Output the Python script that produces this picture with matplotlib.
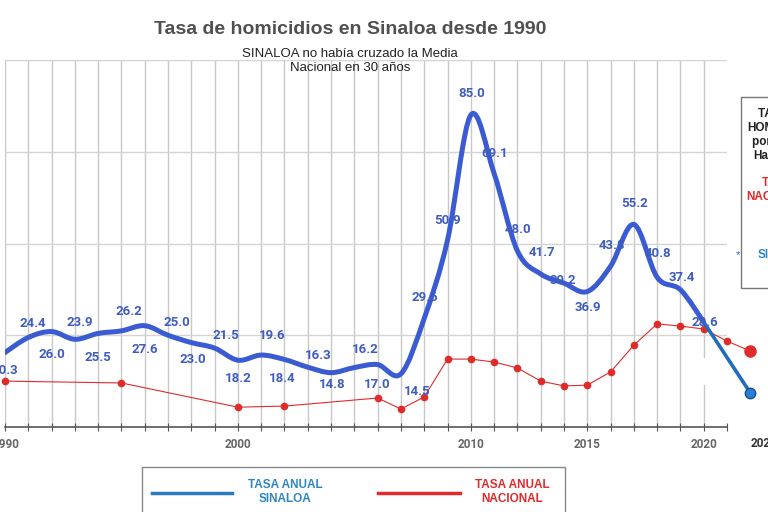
import matplotlib
matplotlib.use('Agg')
import matplotlib.pyplot as plt
from matplotlib.path import Path
from matplotlib.patches import PathPatch, Rectangle
from matplotlib.lines import Line2D

plt.rcParams['font.family'] = ['Liberation Sans', 'DejaVu Sans']

# tasa anual Sinaloa (homicidios por 100 mil hab.)
years = list(range(1990, 2021))
sinaloa = [20.3, 24.4, 26.0, 23.9, 25.5, 26.2, 27.6, 25.0, 23.0, 21.5,
           18.2, 19.6, 18.4, 16.3, 14.8, 16.2, 17.0, 14.5, 29.6, 50.9,
           85.0, 69.1, 48.0, 41.7, 39.2, 36.9, 43.8, 55.2, 40.8, 37.4, 28.6]

# tramo final Sinaloa
end_years = [2020, 2022]
end_sinaloa = [28.6, 9.3]

# tasa anual nacional
nac_years = [1990, 1995, 2000, 2002, 2006, 2007, 2008, 2009, 2010, 2011,
             2012, 2013, 2014, 2015, 2016, 2017, 2018, 2019, 2020, 2021, 2022]
nacional = [12.5, 12.0, 5.4, 5.7, 7.9, 4.9, 8.2, 18.5, 18.5, 17.7,
            16.1, 12.5, 11.2, 11.4, 15.0, 22.3, 28.1, 27.5, 26.7, 23.4, 20.7]

tick_years = [1990, 2000, 2010, 2015, 2020]

# label offsets in pixels (dx, dy) for each Sinaloa value
label_offsets = [(0, -18), (4, 14), (0, -23), (5, 17), (0, -24), (7, 19),
                 (0, -24), (9, 13), (1, -17), (11, 13), (0, -18), (11, 20),
                 (-2, -19), (10, 12), (1, -12), (11, 18), (0, -20), (16, -18),
                 (1, 21), (0, 20), (1, 22), (1, 20), (1, 21), (1, 21),
                 (-1, 3), (1, -16), (1, 21), (1, 21), (1, 24), (1, 12), (1, 0)]

BLUE = '#3a5bd2'
LABEL_BLUE = '#3f5cc0'
RED = '#e02b2b'


def smooth_path(xs, ys):
    verts = [(xs[0], ys[0])]
    codes = [Path.MOVETO]
    n = len(xs)
    for i in range(n - 1):
        x0, y0 = (xs[i - 1], ys[i - 1]) if i > 0 else (xs[i], ys[i])
        x1, y1 = xs[i], ys[i]
        x2, y2 = xs[i + 1], ys[i + 1]
        x3, y3 = (xs[i + 2], ys[i + 2]) if i + 2 < n else (x2, y2)
        verts.append((x1 + (x2 - x0) / 6, y1 + (y2 - y0) / 6))
        verts.append((x2 - (x3 - x1) / 6, y2 - (y3 - y1) / 6))
        verts.append((x2, y2))
        codes += [Path.CURVE4] * 3
    return Path(verts, codes)


fig = plt.figure(figsize=(7.68, 5.12), dpi=100)
ax = fig.add_axes([5 / 768, 85 / 512, 722 / 768, 367 / 512])
ax.set_xlim(1990, 2021)
ax.set_ylim(0, 100)

# grid
ax.vlines(years, 0, 100, color='#c8c8c8', lw=1, zorder=0.5)
ax.hlines([25, 50, 75, 100], 1990, 2021, color='#d4d4d4', lw=1, zorder=0.5)
ax.add_patch(Rectangle((2019.7, 11.4), 1.8, 7.4, facecolor='white',
                       edgecolor='none', zorder=0.8))

for s in ['left', 'right', 'top']:
    ax.spines[s].set_visible(False)
ax.spines['bottom'].set_color('#555555')
ax.spines['bottom'].set_linewidth(1.2)
ax.set_yticks([])
ax.set_xticks(list(range(1990, 2022)))
ax.set_xticklabels([str(y) if y in tick_years else '' for y in range(1990, 2022)],
                   fontsize=8.5, fontweight='bold', color='#666666',
                   family=['Roboto', 'DejaVu Sans'])
ax.tick_params(axis='x', direction='inout', length=6, color='#555555', pad=5)
ax.text(2022.0, -0.028, '2022', transform=ax.get_xaxis_transform(),
        ha='left', va='top', fontsize=8.5, fontweight='bold', color='#333333',
        family=['Roboto', 'DejaVu Sans'], clip_on=False)

# national line
ax.plot(nac_years, nacional, color=RED, lw=0.8, marker='o', ms=4.5,
        mec=RED, mfc=RED, zorder=3, clip_on=False)
ax.plot(nac_years[-1:], nacional[-1:], 'o', color=RED, ms=8, zorder=4,
        clip_on=False)

# Sinaloa line
ax.add_patch(PathPatch(smooth_path(years, sinaloa), fill=False, edgecolor=BLUE,
                       lw=3.6, capstyle='round', joinstyle='round', zorder=5))
ax.plot(end_years, end_sinaloa, color='#1f6dbb', lw=2.6, zorder=5,
        solid_capstyle='round', clip_on=False)
ax.plot(end_years[-1:], end_sinaloa[-1:], 'o', ms=7.5, mfc='#2a7fd6',
        mec='#174f8f', mew=1, zorder=6, clip_on=False)

for yr, v, (dx, dy) in zip(years, sinaloa, label_offsets):
    ax.annotate('%.1f' % v, (yr, v), xytext=(dx, dy), textcoords='offset pixels',
                ha='center', va='center', fontsize=9.5, fontweight='bold',
                color=LABEL_BLUE, family=['Roboto', 'DejaVu Sans'], zorder=7,
                annotation_clip=False)

# titles
fig.text(350 / 768, 1 - 30 / 512, 'Tasa de homicidios en Sinaloa desde 1990',
         ha='center', va='center', fontsize=14, fontweight='bold',
         color='#505050', family=['Liberation Sans Narrow', 'Liberation Sans'])
fig.text(350 / 768, 1 - 61 / 512, 'SINALOA no había cruzado la Media\nNacional en 30 años',
         ha='center', va='center', fontsize=9.5, color='#222222', linespacing=1.25,
         family=['Liberation Sans Narrow', 'Liberation Sans'])

# right box (cut off)
fig.patches.append(Rectangle((741 / 768, 1 - 288 / 512), 60 / 768, 191 / 512,
                             transform=fig.transFigure, facecolor='white',
                             edgecolor='#777777', lw=1, zorder=1))
fig.text(783 / 768, 1 - 135 / 512, 'TASA DE\nHOMICIDIOS\npor 100 mil\nHabitantes',
         ha='center', va='center', fontsize=8.5, fontweight='bold',
         color='#222222', linespacing=1.25, zorder=2)
fig.text(777 / 768, 1 - 190 / 512, 'TASA\nNACIONAL', ha='center', va='center',
         fontsize=8.5, fontweight='bold', color=RED, linespacing=1.25, zorder=2)
fig.text(784 / 768, 1 - 255 / 512, 'SINALOA', ha='center', va='center',
         fontsize=8.5, fontweight='bold', color='#2e86c1', zorder=2)
fig.text(738 / 768, 1 - 255 / 512, '*', ha='center', va='center',
         fontsize=8, color='#2a6fc0', zorder=2)

# bottom legend box
fig.patches.append(Rectangle((142 / 768, -0.05), 423 / 768, 1 - 467 / 512 + 0.05,
                             transform=fig.transFigure, facecolor='white',
                             edgecolor='#888888', lw=1))
fig.lines.append(Line2D([152 / 768, 232 / 768], [1 - 493 / 512] * 2,
                        transform=fig.transFigure, color='#2b7bba', lw=2.5))
fig.lines.append(Line2D([378 / 768, 460 / 768], [1 - 493 / 512] * 2,
                        transform=fig.transFigure, color=RED, lw=2.5))
fig.text(285 / 768, 1 - 492 / 512, 'TASA ANUAL\nSINALOA', ha='center', va='center',
         fontsize=8.5, fontweight='bold', color='#2e86c1', linespacing=1.2)
fig.text(512 / 768, 1 - 492 / 512, 'TASA ANUAL\nNACIONAL', ha='center', va='center',
         fontsize=8.5, fontweight='bold', color=RED, linespacing=1.2)

fig.savefig('out.png', dpi=100)
